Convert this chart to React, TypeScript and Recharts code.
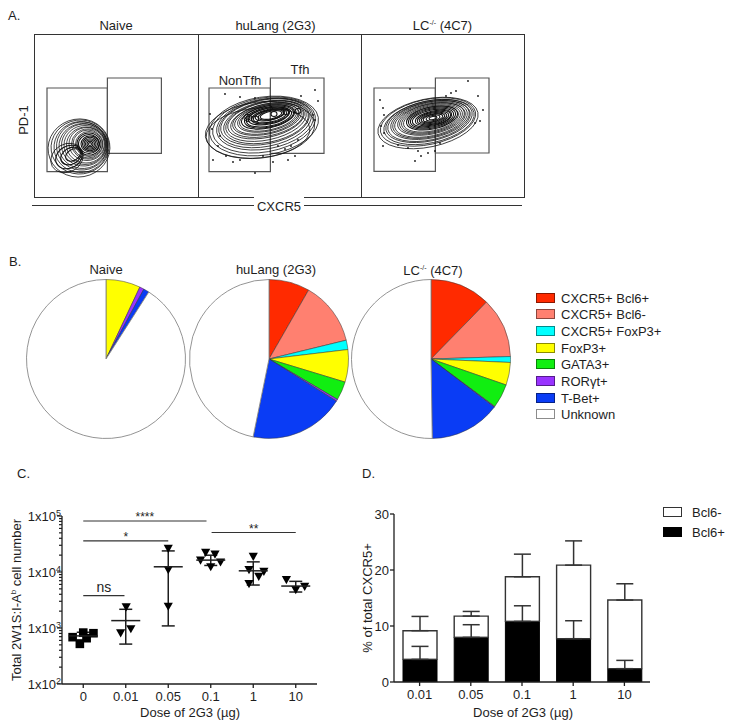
import React from "react";
import {
  ScatterChart,
  Scatter,
  XAxis,
  YAxis,
  ReferenceArea,
  ReferenceLine,
  PieChart,
  Pie,
  Cell,
  ComposedChart,
  BarChart,
  Bar,
  ErrorBar,
} from "recharts";

const FONT = '"Liberation Sans", Arial, Helvetica, sans-serif';
const INK = "#1e1e1e";

// ---------- A. flow plots (units are px inside each frame, y from the top)
const flowEdges = [34, 198, 361, 524];
const flowHeight = 163;
const flowTitles = ["Naive", "huLang (2G3)", "LC"];

const naiveGates = [[13, 73.4, 54, 137.7], [73.4, 127.4, 44, 119.4]];
const huLangGates = [[11, 72.4, 54, 137.7], [72.4, 126, 44, 119.4]];
const lcGates = [[13, 74.4, 54, 137.4], [74.4, 128, 44, 119]];

// contour rings: cx, cy, rx, ry, tilt
const naiveRings = [
  [45, 114, 31, 29, -10], [46, 113, 29, 27, -8], [47, 113, 27, 25.5, -6], [48, 112, 25.5, 24, -5],
  [49, 112, 24, 22.5, -4], [50, 111, 22.5, 21, -3], [51, 111, 21, 19.5, 0], [52, 111, 19.5, 18, 0],
  [53, 110, 18, 16.5, 0], [54, 110, 16.5, 15, 0], [54, 110, 15, 14, 0], [55, 110, 13.5, 12.5, 0],
  [55, 110, 12, 11, 0], [55, 110, 10.5, 9.5, 0], [56, 110, 9, 8, 0], [56, 110, 7.5, 6.7, 0],
  [56, 110, 6, 5.3, 0], [56, 110, 4.5, 4, 0], [56, 110, 3, 2.7, 0], [56, 110, 1.5, 1.4, 0],
  [33, 124, 17, 14, -30], [35, 123, 14, 11, -30], [37, 122, 11, 8, -30], [39, 121, 8, 5.5, -30],
];
const huLangRings = [
  [60, 99, 52, 25, -5], [62, 96, 55, 28, -7],
  [66, 92, 55, 29, -9], [66, 91, 52, 27, -10], [67, 90, 49, 25, -10], [67, 89, 47, 23.5, -11],
  [67, 88, 45, 22, -11], [68, 88, 43, 20.5, -11], [68, 87, 41, 19, -12], [68, 86, 39, 17.5, -12],
  [69, 86, 37, 16, -12], [69, 85, 35, 15, -12], [69, 85, 33, 14, -12], [70, 84, 31, 13, -12],
  [70, 84, 29, 12, -12], [70, 83, 27, 11, -12], [71, 83, 25, 10, -12], [71, 83, 23, 9, -12],
  [71, 82, 21, 8, -12], [72, 82, 19, 7, -12], [72, 82, 17, 6, -12], [72, 81, 15, 5.2, -12],
  [73, 81, 13, 4.5, -12], [73, 81, 11, 3.8, -12],
  [50, 84, 4, 3.5, 0], [50, 84, 2, 2, 0], [57, 85, 3.5, 3, 0], [76, 80, 3, 2.5, 0],
  [88, 78, 3, 2.5, 0], [100, 77, 3, 2.5, 0],
];
const lcRings = [
  [67, 89, 51, 24, -12], [67, 88, 48.5, 22.5, -12], [68, 88, 46, 21, -12], [68, 87, 44, 20, -12],
  [68, 87, 42, 19, -12], [69, 86, 40, 18, -12], [69, 86, 38, 17, -12], [69, 86, 36, 16, -12],
  [70, 85, 34, 15, -12], [70, 85, 32, 14, -12], [70, 85, 30, 13, -12], [70, 85, 28, 12, -12],
  [71, 84, 26, 11, -12], [71, 84, 24, 10, -12], [71, 84, 22, 9, -12], [71, 84, 20, 8, -12],
  [72, 84, 18, 7, -12], [72, 84, 16, 6, -12], [72, 84, 14, 5, -12], [72, 84, 12, 4.2, -12],
  [72, 84, 10, 3.5, -12], [72, 84, 7, 2.5, -12], [72, 84, 4, 1.5, -12],
];

const naiveDots: number[][] = [];
const huLangDots = [
  [42, 63], [57, 64], [22, 102], [20, 112], [28, 122], [35, 128], [42, 126], [57, 139],
  [65, 122], [15, 126], [117, 56], [120, 67], [117, 86], [100, 106], [93, 112], [87, 115],
  [97, 122], [90, 126], [80, 112], [103, 62], [115, 81], [12, 80], [14, 95], [27, 60], [75, 128],
];
const lcDots = [
  [49, 55], [107, 47], [95, 57], [90, 59], [85, 62], [19, 66], [22, 74], [23, 81], [20, 92],
  [23, 99], [22, 112], [37, 111], [47, 114], [57, 117], [60, 122], [54, 127], [67, 119],
  [74, 117], [79, 109], [117, 62], [122, 76], [119, 87], [114, 89],
];

// ---------- B. subset composition (% of cells)
const subsets = [
  "CXCR5+ Bcl6+", "CXCR5+ Bcl6-", "CXCR5+ FoxP3+", "FoxP3+",
  "GATA3+", "RORγt+", "T-Bet+", "Unknown",
];
const subsetColors = ["#ff2a00", "#ff8070", "#00ffff", "#ffff00", "#11ee11", "#9933ff", "#0a3cf5", "#ffffff"];
const naiveShares = [0, 0, 0, 7.0, 0, 0.9, 1.15, 90.95];
const huLangShares = [8.3, 12.9, 1.9, 6.6, 3.8, 0.4, 19.3, 46.8];
const lcShares = [12.3, 12.2, 1.2, 4.6, 4.9, 0.15, 14.4, 50.25];

// ---------- C. total 2W1S:I-Ab cells per mouse
const doseC = ["0", "0.01", "0.05", "0.1", "1", "10"];
// [dose index, horizontal jitter, cells]
const squareMice = [[0, -0.25, 686], [0, 0, 828], [0, 0.24, 807], [0, -0.08, 521], [0, 0.08, 658]];
const triangleMice = [
  [1, 0.01, 2344], [1, -0.12, 807], [1, 0.12, 953],
  [2, 0, 25880], [2, 0, 10820], [2, 0, 2404],
  [3, -0.24, 16070], [3, -0.12, 21970], [3, 0.1, 20570], [3, 0, 12210], [3, 0.23, 14830],
  [4, 0, 18660], [4, -0.1, 10820], [4, 0.25, 10090], [4, 0.13, 8220], [4, -0.1, 6100],
  [5, -0.22, 7180], [5, 0, 4770], [5, 0.21, 5460],
];
const meanC = [723, 1355, 12390, 16300, 10500, 5610];
const sdTopC = [840, 2158, 23800, 19950, 15170, 6810];
const sdBottomC = [610, 516, 1090, 13090, 5850, 4390];
const statBars = [
  { from: 0, to: 2.9, y: 81500, text: "****", size: 12, lift: 0 },
  { from: 0, to: 2, y: 35900, text: "*", size: 12, lift: 0 },
  { from: 3.02, to: 5, y: 50700, text: "**", size: 12, lift: 0 },
  { from: 0, to: 0.97, y: 3780, text: "ns", size: 14, lift: 4 },
];
const decadeTicks = [100, 1000, 10000, 100000];
const minorSteps = [2, 3, 4, 5, 6, 7, 8, 9];

// ---------- D. % of total CXCR5+
const doseD = ["0.01", "0.05", "0.1", "1", "10"];
const bcl6Pos = [4.04, 7.97, 10.82, 7.73, 2.38];
const bcl6PosSd = [2.32, 2.26, 2.79, 3.21, 1.48];
const bcl6Neg = [5.12, 3.8, 7.97, 13.14, 12.25];
const totalSd = [2.55, 0.83, 4.04, 4.33, 2.91];

const toRings = (rows: number[][]) => rows.map(([x, y, rx, ry, rot]) => ({ x, y, rx, ry, rot }));
const toDots = (rows: number[][]) => rows.map(([x, y]) => ({ x, y }));

// inner contours are packed tighter in the original, so draw them a bit heavier
const Ring = (p: any) => (
  <ellipse
    cx={p.cx}
    cy={p.cy}
    rx={p.payload.rx}
    ry={p.payload.ry}
    transform={`rotate(${p.payload.rot} ${p.cx} ${p.cy})`}
    fill="none"
    stroke="#111"
    strokeWidth={p.payload.ry < 12 ? 1.05 : 0.75}
  />
);
const Speck = (p: any) => <circle cx={p.cx} cy={p.cy} r={0.9} fill="#111" />;
const Square = (p: any) => <rect x={p.cx - 4.3} y={p.cy - 4.3} width={8.6} height={8.6} fill="#000" />;
const TriDown = (p: any) => (
  <path d={`M${p.cx - 4.6},${p.cy - 4} L${p.cx + 4.6},${p.cy - 4} L${p.cx},${p.cy + 4.2} Z`} fill="#000" />
);
const MeanBar = (p: any) => (
  <line x1={p.cx - 14.5} x2={p.cx + 14.5} y1={p.cy} y2={p.cy} stroke={INK} strokeWidth={1.5} />
);

const T = ({ x, y, size = 13, rotate = 0, left = false, children }: any) => (
  <div
    style={{
      position: "absolute",
      left: x,
      top: y,
      transform: `translate(${left ? "0" : "-50%"},-50%) rotate(${rotate}deg)`,
      fontSize: size,
      lineHeight: 1,
      whiteSpace: "nowrap",
    }}
  >
    {children}
  </div>
);

const LcTitle = () => (
  <span>
    LC<sup style={{ fontSize: 7, verticalAlign: 5 }}>-/-</sup> (4C7)
  </span>
);

function FlowPanel({ width, gates, rings, dots }: any) {
  return (
    <ScatterChart width={width} height={flowHeight} margin={{ top: 0, right: 0, bottom: 0, left: 0 }}>
      <XAxis type="number" dataKey="x" domain={[0, width]} hide />
      <YAxis type="number" dataKey="y" domain={[0, flowHeight]} reversed hide />
      {gates.map((g: number[], i: number) => (
        <ReferenceArea
          key={i}
          x1={g[0]}
          x2={g[1]}
          y1={g[2]}
          y2={g[3]}
          fill="none"
          fillOpacity={0}
          stroke="#555"
          strokeWidth={1.2}
          ifOverflow="visible"
        />
      ))}
      <Scatter data={toRings(rings)} shape={Ring} isAnimationActive={false} />
      <Scatter data={toDots(dots)} shape={Speck} isAnimationActive={false} />
    </ScatterChart>
  );
}

const LogTick = ({ x, y, payload }: any) => {
  const lg = Math.log10(payload.value);
  const exp = Math.round(lg);
  const major = Math.abs(lg - exp) < 1e-6;
  return (
    <g>
      <line x1={x - (major ? 5 : 3)} x2={x} y1={y} y2={y} stroke={INK} strokeWidth={1.2} />
      {major && (
        <text x={x - 1} y={y} dy="0.35em" textAnchor="end" fontSize={13} fill={INK} fontFamily={FONT}>
          1x10
          <tspan fontSize={9} dy={-5}>
            {exp}
          </tspan>
        </text>
      )}
    </g>
  );
};

export default function App() {
  const flowSets = [
    { gates: naiveGates, rings: naiveRings, dots: naiveDots },
    { gates: huLangGates, rings: huLangRings, dots: huLangDots },
    { gates: lcGates, rings: lcRings, dots: lcDots },
  ];
  const pies = [
    { shares: naiveShares, cx: 106 },
    { shares: huLangShares, cx: 269 },
    { shares: lcShares, cx: 431 },
  ];

  const squares = squareMice.map(([g, j, v]) => ({ x: g + j, y: v }));
  const triangles = triangleMice.map(([g, j, v]) => ({ x: g + j, y: v }));
  const means = meanC.map((m, i) => ({ x: i, y: m, err: [m - sdBottomC[i], sdTopC[i] - m] }));
  const minorTicks = decadeTicks.slice(0, 3).flatMap((d) => minorSteps.map((s) => d * s));

  const tableD = doseD.map((dose, i) => ({
    dose,
    pos: bcl6Pos[i],
    neg: bcl6Neg[i],
    posErr: [0, bcl6PosSd[i]],
    negErr: [0, totalSd[i]],
  }));

  const axisStyle = { fontSize: 13, fill: INK, fontFamily: FONT };

  return (
    <div
      style={{
        position: "absolute",
        left: 0,
        top: 0,
        width: 736,
        height: 728,
        background: "#fff",
        fontFamily: FONT,
        color: INK,
        overflow: "hidden",
      }}
    >
      {/* A */}
      <T x={8} y={15} left>A.</T>
      {flowTitles.map((t, i) => (
        <T key={t} x={(flowEdges[i] + flowEdges[i + 1]) / 2 - (i === 1 ? 4 : 0)} y={25}>
          {i === 2 ? <LcTitle /> : t}
        </T>
      ))}
      {flowSets.map((s, i) => {
        const w = flowEdges[i + 1] - flowEdges[i];
        return (
          <div key={i} style={{ position: "absolute", left: flowEdges[i], top: 34 }}>
            <FlowPanel width={w} gates={s.gates} rings={s.rings} dots={s.dots} />
            <div
              style={{
                position: "absolute",
                left: 0,
                top: 0,
                width: w + 1.3,
                height: flowHeight + 1.3,
                border: "1.3px solid #333",
                boxSizing: "border-box",
                pointerEvents: "none",
              }}
            />
          </div>
        );
      })}
      <T x={240} y={80}>NonTfh</T>
      <T x={300} y={69}>Tfh</T>
      <T x={23} y={120} rotate={-90}>PD-1</T>
      <div style={{ position: "absolute", left: 32, top: 205, width: 490, height: 1.3, background: "#333" }} />
      <div style={{ position: "absolute", left: 254, top: 197, width: 50, height: 18, background: "#fff" }} />
      <T x={279} y={206}>CXCR5</T>

      {/* B */}
      <T x={9} y={261} left>B.</T>
      <T x={106} y={269}>Naive</T>
      <T x={276} y={269}>huLang (2G3)</T>
      <T x={433} y={270}>
        <LcTitle />
      </T>
      <div style={{ position: "absolute", left: 0, top: 270 }}>
        <PieChart width={525} height={180} margin={{ top: 0, right: 0, bottom: 0, left: 0 }}>
          {pies.map((p, k) => {
            const slices = p.shares
              .map((v, i) => ({ name: subsets[i], value: v, color: subsetColors[i] }))
              .filter((d) => d.value > 0);
            return (
              <Pie
                key={k}
                data={slices}
                dataKey="value"
                cx={p.cx}
                cy={89}
                outerRadius={79.5}
                startAngle={90}
                endAngle={-270}
                isAnimationActive={false}
              >
                {slices.map((d) => (
                  <Cell
                    key={d.name}
                    fill={d.color}
                    stroke={d.name === "Unknown" ? "#888" : "#333"}
                    strokeWidth={d.name === "Unknown" ? 0.9 : 0.5}
                  />
                ))}
              </Pie>
            );
          })}
        </PieChart>
      </div>
      {subsets.map((s, i) => (
        <React.Fragment key={s}>
          <div
            style={{
              position: "absolute",
              left: 536,
              top: 297.7 + i * 16.65 - 5,
              width: 19,
              height: 10,
              background: subsetColors[i],
              border: "1px solid rgba(0,0,0,0.45)",
              boxSizing: "border-box",
            }}
          />
          <T x={561} y={297.7 + i * 16.65} left>
            {s}
          </T>
        </React.Fragment>
      ))}

      {/* C */}
      <T x={17} y={473} left>C.</T>
      <div style={{ position: "absolute", left: 0, top: 500 }}>
        <ComposedChart width={330} height={228} margin={{ top: 16, right: 13, bottom: 14, left: 0 }}>
          <XAxis
            type="number"
            dataKey="x"
            domain={[-0.5, 5.5]}
            ticks={[0, 1, 2, 3, 4, 5]}
            tickFormatter={(i: number) => doseC[i]}
            tick={axisStyle}
            tickSize={4}
            tickMargin={4}
            height={30}
            stroke={INK}
            strokeWidth={1.3}
            allowDataOverflow
          />
          <YAxis
            type="number"
            dataKey="y"
            scale="log"
            domain={[100, 100000]}
            ticks={[...decadeTicks, ...minorTicks]}
            interval={0}
            tick={<LogTick />}
            tickLine={false}
            tickSize={0}
            tickMargin={0}
            width={62}
            stroke={INK}
            strokeWidth={1.3}
            allowDataOverflow
          />
          {statBars.map((b) => (
            <ReferenceLine
              key={b.text}
              segment={[
                { x: b.from, y: b.y },
                { x: b.to, y: b.y },
              ]}
              stroke="#333"
              strokeWidth={1.2}
              ifOverflow="visible"
              label={{ value: b.text, position: "top", offset: b.lift, fontSize: b.size, fill: INK, fontFamily: FONT }}
            />
          ))}
          <Scatter data={squares} shape={Square} isAnimationActive={false} />
          <Scatter data={triangles} shape={TriDown} isAnimationActive={false} />
          <Scatter data={means} shape={MeanBar} isAnimationActive={false}>
            <ErrorBar dataKey="err" direction="y" width={6.5} stroke={INK} strokeWidth={1.5} />
          </Scatter>
        </ComposedChart>
      </div>
      <T x={16} y={600} rotate={-90}>
        Total 2W1S:I-A<sup style={{ fontSize: 8, verticalAlign: 5 }}>b</sup> cell number
      </T>
      <T x={190} y={712}>Dose of 2G3 (µg)</T>

      {/* D */}
      <T x={362} y={473} left>D.</T>
      <div style={{ position: "absolute", left: 340, top: 495 }}>
        <BarChart width={320} height={233} data={tableD} margin={{ top: 19, right: 10, bottom: 16, left: 14 }}>
          <XAxis
            dataKey="dose"
            tick={axisStyle}
            tickSize={4}
            tickMargin={4}
            height={30}
            stroke={INK}
            strokeWidth={1.3}
          />
          <YAxis
            domain={[0, 30]}
            ticks={[0, 10, 20, 30]}
            tick={axisStyle}
            tickSize={4}
            tickMargin={1}
            width={40}
            stroke={INK}
            strokeWidth={1.3}
            allowDataOverflow
          />
          <Bar dataKey="pos" stackId="s" barSize={34} fill="#000" stroke="#000" strokeWidth={1} isAnimationActive={false}>
            <ErrorBar dataKey="posErr" direction="y" width={8.5} stroke="#333" strokeWidth={1.5} />
          </Bar>
          <Bar
            dataKey="neg"
            stackId="s"
            barSize={34}
            fill="#fff"
            fillOpacity={0}
            stroke="#333"
            strokeWidth={1.4}
            isAnimationActive={false}
          >
            <ErrorBar dataKey="negErr" direction="y" width={8.5} stroke="#333" strokeWidth={1.5} />
          </Bar>
        </BarChart>
      </div>
      <T x={367} y={598} rotate={-90}>% of total CXCR5+</T>
      <T x={523} y={712}>Dose of 2G3 (µg)</T>
      <div
        style={{
          position: "absolute",
          left: 663,
          top: 507,
          width: 19,
          height: 10,
          border: "1.3px solid #333",
          boxSizing: "border-box",
          background: "#fff",
        }}
      />
      <T x={692} y={512} left>Bcl6-</T>
      <div style={{ position: "absolute", left: 663, top: 527, width: 19, height: 10, background: "#000" }} />
      <T x={692} y={532} left>Bcl6+</T>
    </div>
  );
}
